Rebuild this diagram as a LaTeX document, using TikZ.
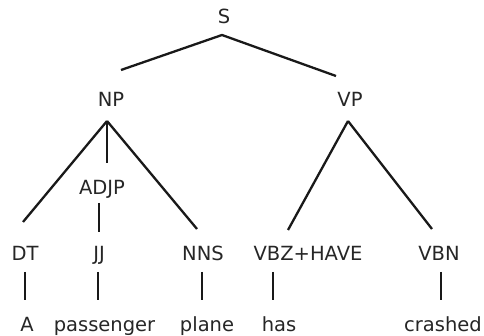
\documentclass[tikz,border=0pt]{standalone}
\usepackage{fontspec}
\setmainfont{DejaVu Sans}
\begin{document}
\begin{tikzpicture}[x=1pt,y=-1pt,
  lbl/.style={anchor=base,inner sep=0pt,font=\fontsize{19.5}{21}\selectfont,text=black!85},
  edge/.style={line width=2.3pt,black!90}]
\useasboundingbox[fill=white] (0,0) rectangle (484,336);
% labels
\node[lbl] (S) at (224,24) {S};
\node[lbl] (NP) at (111,107) {NP};
\node[lbl] (VP) at (350,107) {VP};
\node[lbl] (ADJP) at (102,195) {ADJP};
\node[lbl] (DT) at (25,261) {DT};
\node[lbl] (JJ) at (99,261) {JJ};
\node[lbl] (NNS) at (203,261) {NNS};
\node[lbl] (VBZ) at (308,261) {VBZ+HAVE};
\node[lbl] (VBN) at (439,261) {VBN};
\node[lbl] (wA) at (27,331) {A};
\node[lbl] (wpass) at (104.5,331) {passenger};
\node[lbl] (wplane) at (207,331) {plane};
\node[lbl] (whas) at (279,331) {has};
\node[lbl] (wcrash) at (443,331) {crashed};
% connector end points
\coordinate (Sb) at (222,35);
\coordinate (NPt) at (121,70);
\coordinate (VPt) at (336,76);
\coordinate (NPb) at (107,121);
\coordinate (DTt) at (23,222);
\coordinate (ADJPt) at (107,163);
\coordinate (NNSt) at (197,229);
\coordinate (ADJPb) at (99,203);
\coordinate (JJt) at (99,232);
\coordinate (VPb) at (348,121);
\coordinate (VBZt) at (288,230);
\coordinate (VBNt) at (432,229);
\foreach \n/\x in {DT/25,JJ/98,NNS/202,VBZ/273,VBN/441}{
  \coordinate (\n b) at (\x,272);
  \coordinate (\n w) at (\x,300);
}
% connectors
\draw[edge] (NPt) -- (Sb) -- (VPt);
\draw[edge] (NPb) -- (DTt);
\draw[edge] (NPb) -- (ADJPt);
\draw[edge] (NPb) -- (NNSt);
\draw[edge] (ADJPb) -- (JJt);
\draw[edge] (VPb) -- (VBZt);
\draw[edge] (VPb) -- (VBNt);
\foreach \n in {DT,JJ,NNS,VBZ,VBN}{
  \draw[edge] (\n b) -- (\n w);
}
\end{tikzpicture}
\end{document}
